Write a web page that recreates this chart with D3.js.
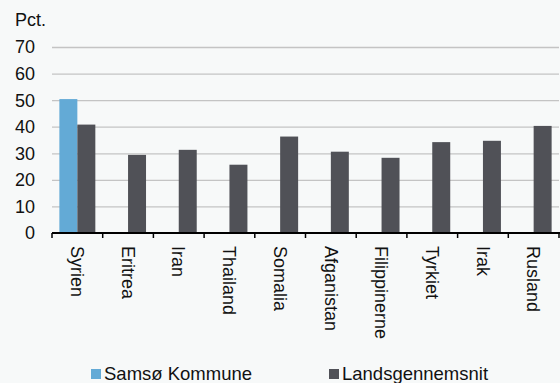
<!DOCTYPE html>
<html>
<head>
<meta charset="utf-8">
<script src="https://cdn.jsdelivr.net/npm/d3@7"></script>
<style>
  body { margin: 0; background: #f7f9f9; }
  svg { display: block; font-family: "Liberation Sans", Arial, sans-serif; }
  .grid line { stroke: #c4c4c4; stroke-width: 1.3; }
  .grid path { display: none; }
</style>
</head>
<body>
<div id="chart"></div>
<script>
var countries = ["Syrien", "Eritrea", "Iran", "Thailand", "Somalia", "Afganistan", "Filippinerne", "Tyrkiet", "Irak", "Rusland"];
var samsoe = [50.4, null, null, null, null, null, null, null, null, null];
var landsgennemsnit = [40.8, 29.4, 31.3, 25.7, 36.3, 30.6, 28.3, 34.2, 34.7, 40.3];
var yTicks = [0, 10, 20, 30, 40, 50, 60, 70];
var seriesNames = ["Samsø Kommune", "Landsgennemsnit"];
var colors = ["#63aad6", "#505157"];

var W = 560, H = 383;
var margin = { top: 47, right: 1, bottom: 150, left: 52 };
var width = W - margin.left - margin.right,
    height = H - margin.top - margin.bottom;

var svg = d3.select("#chart").append("svg").attr("width", W).attr("height", H);
svg.append("rect").attr("width", W).attr("height", H).attr("fill", "#f7f9f9");

var g = svg.append("g").attr("transform", "translate(" + margin.left + "," + margin.top + ")");

var x = d3.scaleBand().domain(countries).range([0, width]);
var x1 = d3.scaleBand().domain([0, 1]).range([0, x.bandwidth()]).paddingOuter(0.41).paddingInner(0);
var y = d3.scaleLinear().domain([0, 70]).range([height, 0]);

// gridlines
g.append("g").attr("class", "grid")
  .call(d3.axisLeft(y).tickValues(yTicks.slice(1)).tickSize(-width).tickFormat(""));

// y labels
g.append("g").selectAll("text").data(yTicks).enter().append("text")
  .attr("x", -17).attr("y", function(d) { return y(d); })
  .attr("dy", "0.36em").attr("text-anchor", "end")
  .attr("font-size", "18px").attr("fill", "#111")
  .text(function(d) { return d; });

svg.append("text").attr("x", 15).attr("y", 26).attr("font-size", "18px").attr("fill", "#111").text("Pct.");

// bars
var series = [samsoe, landsgennemsnit];
series.forEach(function(vals, si) {
  g.append("g").selectAll("rect")
    .data(countries.map(function(c, i) { return { c: c, v: vals[i] }; }).filter(function(d) { return d.v != null; }))
    .enter().append("rect")
    .attr("x", function(d) { return x(d.c) + x1(si); })
    .attr("width", x1.bandwidth())
    .attr("y", function(d) { return y(d.v); })
    .attr("height", function(d) { return height - y(d.v); })
    .attr("fill", colors[si]);
});

// x axis
var xAxis = g.append("g").attr("transform", "translate(0," + height + ")");
xAxis.append("line").attr("x1", 0).attr("x2", width + 1).attr("y1", 0).attr("y2", 0)
  .attr("stroke", "#000").attr("stroke-width", 2);
xAxis.selectAll(".tick").data(countries.concat(["end"])).enter().append("line")
  .attr("x1", function(d, i) { return i * x.step(); })
  .attr("x2", function(d, i) { return i * x.step(); })
  .attr("y1", 0).attr("y2", 5).attr("stroke", "#000").attr("stroke-width", 1.5);
xAxis.selectAll("text.lbl").data(countries).enter().append("text")
  .attr("class", "lbl")
  .attr("transform", function(d) { return "translate(" + (x(d) + x.bandwidth() / 2) + ",13) rotate(90)"; })
  .attr("dy", "0.35em").attr("font-size", "18px").attr("fill", "#111")
  .text(function(d) { return d; });

// legend
var legend = svg.append("g");
var legX = [91, 329];
seriesNames.forEach(function(n, i) {
  legend.append("rect").attr("x", legX[i]).attr("y", 369).attr("width", 10).attr("height", 10).attr("fill", colors[i]);
  legend.append("text").attr("x", legX[i] + 13).attr("y", 380).attr("font-size", "18.5px").attr("fill", "#111").text(n);
});
</script>
</body>
</html>
